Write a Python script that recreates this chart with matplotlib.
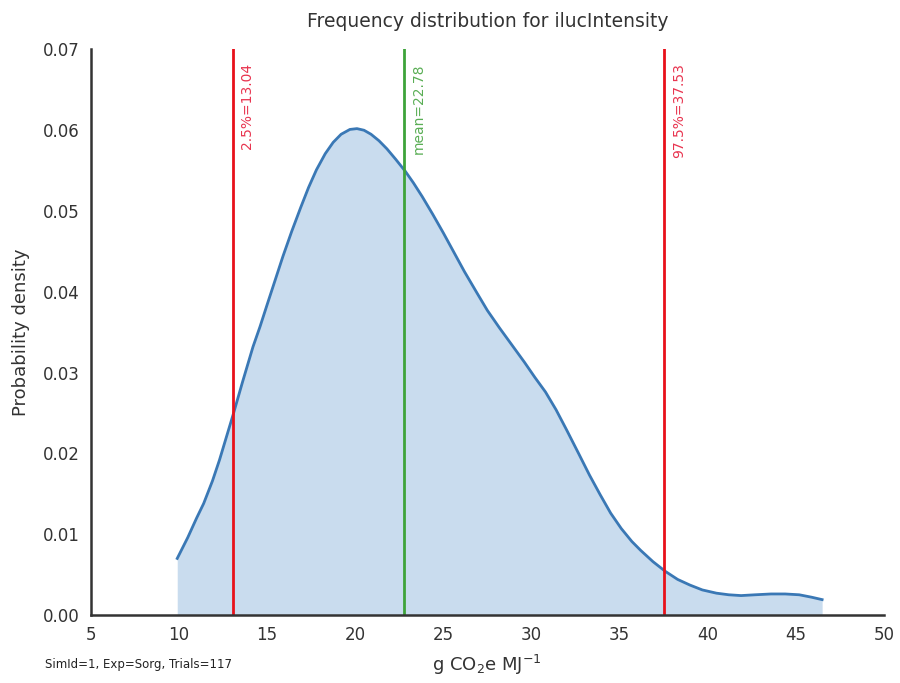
import matplotlib
matplotlib.use("Agg")
import matplotlib.pyplot as plt

# density curve
xs = [9.9, 10.5, 11.0, 11.4, 11.9, 12.3, 12.7, 13.1, 13.6, 14.2, 14.6, 15.0,
      15.45, 15.9, 16.4, 16.9, 17.35, 17.8, 18.3, 18.75, 19.2, 19.7, 20.1, 20.5,
      20.9, 21.35, 21.8, 22.3, 22.85, 23.3, 23.8, 24.4, 25.0, 25.6, 26.2, 26.9,
      27.5, 28.2, 28.9, 29.6, 30.2, 30.8, 31.4, 32.0, 32.7, 33.3, 33.9, 34.5,
      35.1, 35.7, 36.2, 36.9, 37.6, 38.3, 39.0, 39.7, 40.5, 41.2, 41.9, 42.7,
      43.6, 44.4, 45.2, 45.9, 46.5]
ys = [0.0070, 0.0096, 0.0120, 0.0138, 0.0166, 0.0192, 0.0221, 0.0250, 0.0288, 0.0332, 0.0357, 0.0384,
      0.0414, 0.0444, 0.0475, 0.0504, 0.0529, 0.0551, 0.0571, 0.0585, 0.0595, 0.0601, 0.0602, 0.0600,
      0.0595, 0.0587, 0.0577, 0.0564, 0.0549, 0.0535, 0.0518, 0.0496, 0.0473, 0.0449, 0.0425, 0.0399,
      0.0377, 0.0355, 0.0334, 0.0313, 0.0294, 0.0276, 0.0254, 0.0229, 0.0199, 0.0173, 0.0149, 0.0126,
      0.0107, 0.0091, 0.0080, 0.0066, 0.0054, 0.0044, 0.0037, 0.0031, 0.0027, 0.0025, 0.0024, 0.0025,
      0.0026, 0.0026, 0.0025, 0.0022, 0.0019]

lines_x = [13.04, 22.78, 37.53]
line_labels = ["2.5%=13.04", "mean=22.78", "97.5%=37.53"]
line_colors = ["#e8111a", "#3ea33a", "#e8111a"]
text_colors = ["#e8344f", "#5aae55", "#e8344f"]

xticks = [5, 10, 15, 20, 25, 30, 35, 40, 45, 50]
yticks = [0.00, 0.01, 0.02, 0.03, 0.04, 0.05, 0.06, 0.07]

fig = plt.figure(figsize=(9, 6.83), dpi=100)
ax = fig.add_axes([0.101, 0.0996, 0.881, 0.828])

ax.fill_between(xs, ys, 0, color="#c9dcee", linewidth=0)
ax.plot(xs, ys, color="#3a78b5", linewidth=2)

for x, lab, lc, tc in zip(lines_x, line_labels, line_colors, text_colors):
    ax.axvline(x, color=lc, linewidth=2)
    ax.text(x + 0.45, 0.0683, lab, rotation=90, va="top", ha="left",
            color=tc, fontsize=10)

ax.set_xlim(5, 50)
ax.set_ylim(0, 0.07)
ax.set_xticks(xticks)
ax.set_yticks(yticks)
ax.set_xticklabels([str(t) for t in xticks])
ax.set_yticklabels(["%.2f" % t for t in yticks])
ax.tick_params(length=0, labelsize=12, colors="#333333", pad=8)

for s in ["top", "right"]:
    ax.spines[s].set_visible(False)
for s in ["left", "bottom"]:
    ax.spines[s].set_color("#333333")
    ax.spines[s].set_linewidth(1.8)

ax.set_title("Frequency distribution for ilucIntensity", fontsize=13.5,
             color="#333333", pad=16)
ax.set_ylabel("Probability density", fontsize=13, color="#333333", labelpad=9)
ax.set_xlabel("g CO$_2$e MJ$^{-1}$", fontsize=13, color="#333333", labelpad=6)
fig.text(0.05, 0.022, "SimId=1, Exp=Sorg, Trials=117", fontsize=8.5,
         color="#222222")

fig.savefig("out.png", dpi=100)
